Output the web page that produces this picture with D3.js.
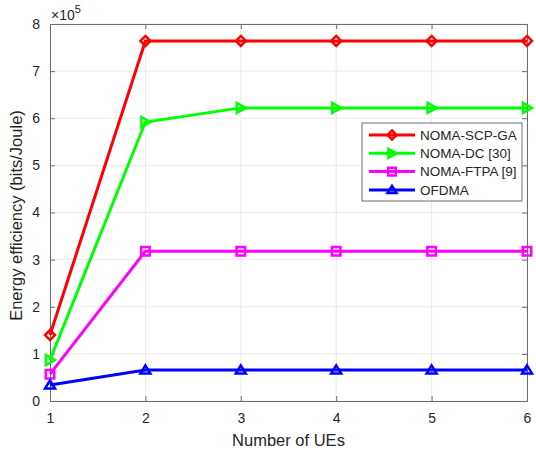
<!DOCTYPE html>
<html>
<head>
<meta charset="utf-8">
<script src="https://cdn.jsdelivr.net/npm/d3@7"></script>
<style>
  body { margin: 0; background: #fff; }
  text { font-family: "Liberation Sans", Arial, sans-serif; fill: #262626; }
</style>
</head>
<body>
<div id="chart"></div>
<script>
// Données (valeurs en x10^5)
const ues = [1, 2, 3, 4, 5, 6]
const scpGa = [1.40, 7.64, 7.64, 7.64, 7.64, 7.64]
const dc = [0.87, 5.92, 6.22, 6.22, 6.22, 6.22]
const ftpa = [0.57, 3.18, 3.18, 3.18, 3.18, 3.18]
const ofdma = [0.34, 0.66, 0.66, 0.66, 0.66, 0.66]
const yTicks = [0, 1, 2, 3, 4, 5, 6, 7, 8]
const seriesNames = ["NOMA-SCP-GA", "NOMA-DC [30]", "NOMA-FTPA [9]", "OFDMA"]

const width = 536
const height = 451
const margin = {left: 50, right: 9, top: 24, bottom: 50}

const svg = d3.select("#chart").append("svg")
  .attr("width", width)
  .attr("height", height)

const x = d3.scaleLinear().domain([1, 6]).range([margin.left, width - margin.right])
const y = d3.scaleLinear().domain([0, 8]).range([height - margin.bottom, margin.top])

const series = [
  {name: seriesNames[0], values: scpGa, color: "#ff0000", marker: "diamond"},
  {name: seriesNames[1], values: dc, color: "#00ff00", marker: "right"},
  {name: seriesNames[2], values: ftpa, color: "#ff00ff", marker: "square"},
  {name: seriesNames[3], values: ofdma, color: "#0000ff", marker: "up"}
]

// Grille
const grid = svg.append("g")
grid.selectAll(".gx").data(ues).join("line")
  .attr("x1", d => x(d)).attr("x2", d => x(d))
  .attr("y1", y(0)).attr("y2", y(8))
  .attr("stroke", "#ebebeb").attr("stroke-width", 1)
grid.selectAll(".gy").data(yTicks).join("line")
  .attr("y1", d => y(d)).attr("y2", d => y(d))
  .attr("x1", x(1)).attr("x2", x(6))
  .attr("stroke", "#ebebeb").attr("stroke-width", 1)

// Axes (ticks vers l'intérieur, boîte complète)
const axisColor = "#6e6e6e"
const xAxis = svg.append("g").attr("transform", `translate(0,${y(0)})`)
  .call(d3.axisBottom(x).tickValues(ues).tickSize(-5).tickPadding(12).tickFormat(d3.format("d")))
const xTop = svg.append("g").attr("transform", `translate(0,${y(8)})`)
  .call(d3.axisTop(x).tickValues(ues).tickSize(-5).tickFormat(""))
const yAxis = svg.append("g").attr("transform", `translate(${x(1)},0)`)
  .call(d3.axisLeft(y).tickValues(yTicks).tickSize(-5).tickPadding(10).tickFormat(d3.format("d")))
const yRight = svg.append("g").attr("transform", `translate(${x(6)},0)`)
  .call(d3.axisRight(y).tickValues(yTicks).tickSize(-5).tickFormat(""))

;[xAxis, xTop, yAxis, yRight].forEach(g => {
  g.select(".domain").attr("stroke", axisColor).attr("stroke-width", 1)
  g.selectAll(".tick line").attr("stroke", axisColor)
  g.selectAll(".tick text").style("font-size", "14px").attr("fill", "#262626")
})

// Symboles
function markerPath(type, s) {
  if (type === "diamond") return `M0,${-s}L${s},0L0,${s}L${-s},0Z`
  if (type === "square") { const h = s * 0.85; return `M${-h},${-h}H${h}V${h}H${-h}Z` }
  if (type === "right") return `M${-s*0.8},${-s}L${s},0L${-s*0.8},${s}Z`
  if (type === "up") return `M0,${-s*0.9}L${s},${s*0.7}L${-s},${s*0.7}Z`
}

const line = d3.line().x((d, i) => x(ues[i])).y(d => y(d))

const plot = svg.append("g")
series.forEach(s => {
  plot.append("path")
    .attr("d", line(s.values))
    .attr("fill", "none")
    .attr("stroke", s.color)
    .attr("stroke-width", 3)
  plot.selectAll(null).data(s.values).join("path")
    .attr("transform", (d, i) => `translate(${x(ues[i])},${y(d)})`)
    .attr("d", markerPath(s.marker, 5))
    .attr("fill", "none")
    .attr("stroke", s.color)
    .attr("stroke-width", 2.5)
})

// Exposant
const expo = svg.append("text").attr("x", x(1) + 1).attr("y", 20).style("font-size", "14px")
expo.append("tspan").text("\u00d710")
expo.append("tspan").attr("dy", -7).style("font-size", "11px").text("5")

// Titres des axes
svg.append("text")
  .attr("x", (x(1) + x(6)) / 2).attr("y", 446)
  .attr("text-anchor", "middle").style("font-size", "16.5px")
  .text("Number of UEs")
svg.append("text")
  .attr("transform", `translate(22,${(y(0) + y(8)) / 2 + 3}) rotate(-90)`)
  .attr("text-anchor", "middle").style("font-size", "16.5px")
  .text("Energy efficiency (bits/Joule)")

// Légende
const legend = svg.append("g").attr("transform", "translate(362,123)")
legend.append("rect")
  .attr("width", 160).attr("height", 78)
  .attr("fill", "#fff").attr("stroke", "#6e6e6e").attr("stroke-width", 1)
const items = legend.selectAll("g").data(series).join("g")
  .attr("transform", (d, i) => `translate(0,${12 + i * 18.3})`)
items.append("line")
  .attr("x1", 7).attr("x2", 53)
  .attr("stroke", d => d.color).attr("stroke-width", 3)
items.append("path")
  .attr("transform", "translate(30,0)")
  .attr("d", d => markerPath(d.marker, 4.5))
  .attr("fill", "none").attr("stroke", d => d.color).attr("stroke-width", 2.5)
items.append("text")
  .attr("x", 58).attr("y", 0).attr("dy", "0.35em")
  .style("font-size", "13.5px")
  .text(d => d.name)
</script>
</body>
</html>
